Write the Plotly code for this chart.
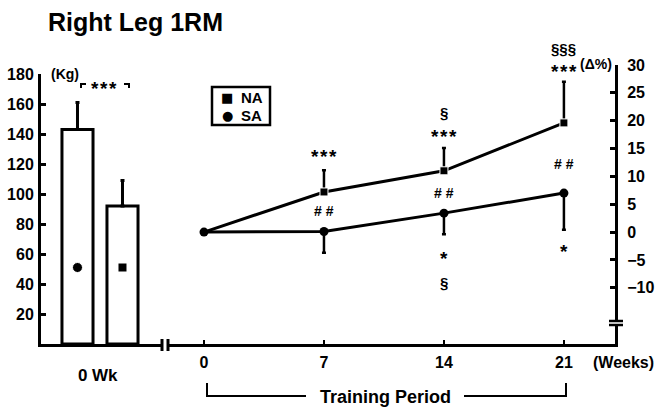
import plotly.graph_objects as go

# ---------------- data ----------------
groups = ["SA", "NA"]
bar_kg = [143, 92]
bar_sd = [18, 17]
group_symbols = ["circle", "square"]
symbol_kg = [51, 51]

weeks = [0, 7, 14, 21]
na_pct = [0, 7.2, 11.0, 19.6]
na_sd = [0, 3.9, 4.1, 7.4]
sa_pct = [0, 0.1, 3.4, 7.0]
sa_sd = [0, 3.8, 3.8, 6.6]

left_ticks = [20, 40, 60, 80, 100, 120, 140, 160, 180]
right_ticks = [-10, -5, 0, 5, 10, 15, 20, 25, 30]
week_ticks = [0, 7, 14, 21]

STAR3 = "*\u200a*\u200a*"
# significance marks: (week, y in %, text, font size)
sig_marks = [
    (7, 13.6, STAR3, 19), (7, 3.8, "# #", 14),
    (14, 21.5, "§", 15), (14, 17.2, STAR3, 19), (14, 7.0, "# #", 14),
    (14, -4.7, "*", 19), (14, -9.0, "§", 15),
    (21, 28.8, STAR3, 19), (21, 12.2, "# #", 14),
    (21, -3.5, "*", 19),
]
legend_names = ["NA", "SA"]
legend_glyphs = ["■", "●"]

FONT = "Liberation Sans, Arial, sans-serif"
BLACK = "black"

# ------------- page geometry (pixels) -------------
W, H = 656, 410
L, R, T, B = 41, 41, 60, 66
PW, PH = W - L - R, H - T - B


def px(x):
    return (x - L) / PW


def py(y):
    return (H - B - y) / PH


fig = go.Figure()

# bars (baseline, kg)
fig.add_trace(go.Bar(
    x=[0, 1], y=bar_kg, width=0.69,
    marker=dict(color="white", line=dict(color=BLACK, width=3)),
    error_y=dict(type="data", symmetric=False, array=bar_sd, arrayminus=[0, 0],
                 color=BLACK, thickness=3, width=2),
    xaxis="x", yaxis="y", showlegend=False, hoverinfo="skip",
))
fig.add_trace(go.Scatter(
    x=[0, 1], y=symbol_kg, mode="markers",
    marker=dict(symbol=group_symbols, size=[10, 9], color=BLACK, opacity=1),
    xaxis="x", yaxis="y", showlegend=False, hoverinfo="skip",
))

# NA line (squares, upward SD)
fig.add_trace(go.Scatter(
    x=weeks, y=na_pct, mode="lines+markers", name="NA",
    line=dict(color=BLACK, width=3),
    marker=dict(symbol="square", size=[0, 8, 8, 8], color=BLACK, opacity=1),
    error_y=dict(type="data", symmetric=False, array=na_sd, arrayminus=[0] * 4,
                 color=BLACK, thickness=2.5, width=2),
    xaxis="x2", yaxis="y2", showlegend=False, hoverinfo="skip",
))
# SA line (circles, downward SD)
fig.add_trace(go.Scatter(
    x=weeks, y=sa_pct, mode="lines+markers", name="SA",
    line=dict(color=BLACK, width=3),
    marker=dict(symbol="circle", size=9, color=BLACK, opacity=1),
    error_y=dict(type="data", symmetric=False, array=[0] * 4, arrayminus=sa_sd,
                 color=BLACK, thickness=2.5, width=2),
    xaxis="x2", yaxis="y2", showlegend=False, hoverinfo="skip",
))

tickfont = dict(family=FONT, size=16, color=BLACK, weight="bold")

fig.update_layout(
    width=W, height=H,
    margin=dict(l=L, r=R, t=T, b=B, pad=0, autoexpand=False),
    paper_bgcolor="white", plot_bgcolor="white",
    font=dict(family=FONT, color=BLACK),
    title=dict(text="Right Leg 1RM", x=48 / W, xanchor="left",
               y=1 - 22 / H, yanchor="middle", yref="container",
               font=dict(family=FONT, size=25, color=BLACK, weight="bold")),
    showlegend=False,
    xaxis=dict(domain=[0, px(162)], range=[-0.811, 1.878], showline=True,
               linecolor=BLACK, linewidth=3, showgrid=False, zeroline=False,
               tickvals=[0.45], ticktext=["0 Wk"], ticks="",
               tickfont=dict(family=FONT, size=17, color=BLACK, weight="bold"),
               ticklabelstandoff=14, anchor="y", automargin=False),
    yaxis=dict(domain=[0, py(74)], range=[0, 180], showline=True,
               linecolor=BLACK, linewidth=3, showgrid=False, zeroline=False,
               tickvals=left_ticks, ticks="inside", ticklen=5, tickwidth=3,
               tickcolor=BLACK, tickfont=tickfont, anchor="x",
               ticklabelstandoff=1, automargin=False),
    xaxis2=dict(domain=[px(168), 1], range=[-2.1, 23.98], showline=True,
                linecolor=BLACK, linewidth=3, showgrid=False, zeroline=False,
                tickvals=week_ticks, ticks="inside", ticklen=4, tickwidth=2,
                tickcolor=BLACK, tickfont=tickfont, anchor="y2",
                ticklabelstandoff=2, automargin=False),
    yaxis2=dict(domain=[0, py(65)], range=[-20.1, 30], showline=True,
                linecolor=BLACK, linewidth=3, showgrid=False, zeroline=False,
                side="right", tickvals=right_ticks, ticks="inside", ticklen=5,
                tickwidth=3, tickcolor=BLACK, tickfont=tickfont, anchor="x2",
                ticklabelstandoff=6, automargin=False),
)


def label(x, y, text, size, bold=True, xanchor="center", family=FONT):
    return dict(x=px(x), y=py(y), xref="paper", yref="paper", text=text,
                showarrow=False, xanchor=xanchor, yanchor="middle",
                font=dict(family=family, size=size, color=BLACK,
                          weight="bold" if bold else "normal"))


ann = []
for wk, yv, txt, sz in sig_marks:
    ann.append(dict(x=wk, y=yv, xref="x2", yref="y2", text=txt, showarrow=False,
                    xanchor="center", yanchor="middle",
                    font=dict(family=FONT, size=sz, color=BLACK, weight="bold")))
# §§§ sits above the top of the % axis, so it is placed against the page
ann.append(dict(x=21, y=py(49), xref="x2", yref="paper", text="§§§",
                showarrow=False, xanchor="center", yanchor="middle",
                font=dict(family=FONT, size=15, color=BLACK, weight="bold")))
ann.append(label(104, 88, STAR3, 19))
ann.append(label(65, 74, "(Kg)", 14))
ann.append(label(596, 64, "(Δ%)", 14))
ann.append(label(591, 362, "(Weeks)", 16, xanchor="left"))
ann.append(label(385, 397, "Training Period", 18))
# legend (manual)
for i, (g, n) in enumerate(zip(legend_glyphs, legend_names)):
    yy = 97 + i * 19
    ann.append(label(227, yy, g, 13, bold=False, family="DejaVu Sans"))
    ann.append(label(239, yy, n, 15, xanchor="left"))
fig.update_layout(annotations=ann)

shapes = []
line = dict(color=BLACK, width=2)
# legend box
shapes.append(dict(type="rect", xref="paper", yref="paper",
                   x0=px(212), x1=px(270), y0=py(87), y1=py(125),
                   line=dict(color=BLACK, width=2.5)))
# bracket corners over bars
shapes.append(dict(type="path", xref="paper", yref="paper",
                   path=f"M {px(81)} {py(88)} L {px(81)} {py(84)} L {px(86)} {py(84)}", line=line))
shapes.append(dict(type="path", xref="paper", yref="paper",
                   path=f"M {px(124)} {py(84)} L {px(129)} {py(84)} L {px(129)} {py(88)}", line=line))
# x-axis break
for xx in (162, 168):
    shapes.append(dict(type="line", xref="paper", yref="paper",
                       x0=px(xx), x1=px(xx), y0=py(339), y1=py(351),
                       line=dict(color=BLACK, width=3)))
# right-axis break
shapes.append(dict(type="rect", xref="paper", yref="paper",
                   x0=px(612), x1=px(620), y0=py(325), y1=py(321),
                   fillcolor="white", line=dict(width=0)))
for yy in (321, 325):
    shapes.append(dict(type="line", xref="paper", yref="paper",
                       x0=px(609), x1=px(623), y0=py(yy), y1=py(yy),
                       line=dict(color=BLACK, width=2.5)))
# training period bracket
shapes.append(dict(type="path", xref="paper", yref="paper",
                   path=f"M {px(207)} {py(383)} L {px(207)} {py(396)} L {px(306)} {py(396)}",
                   line=line))
shapes.append(dict(type="path", xref="paper", yref="paper",
                   path=f"M {px(464)} {py(396)} L {px(566)} {py(396)} L {px(566)} {py(383)}",
                   line=line))
fig.update_layout(shapes=shapes)

fig.write_html("out.html")
